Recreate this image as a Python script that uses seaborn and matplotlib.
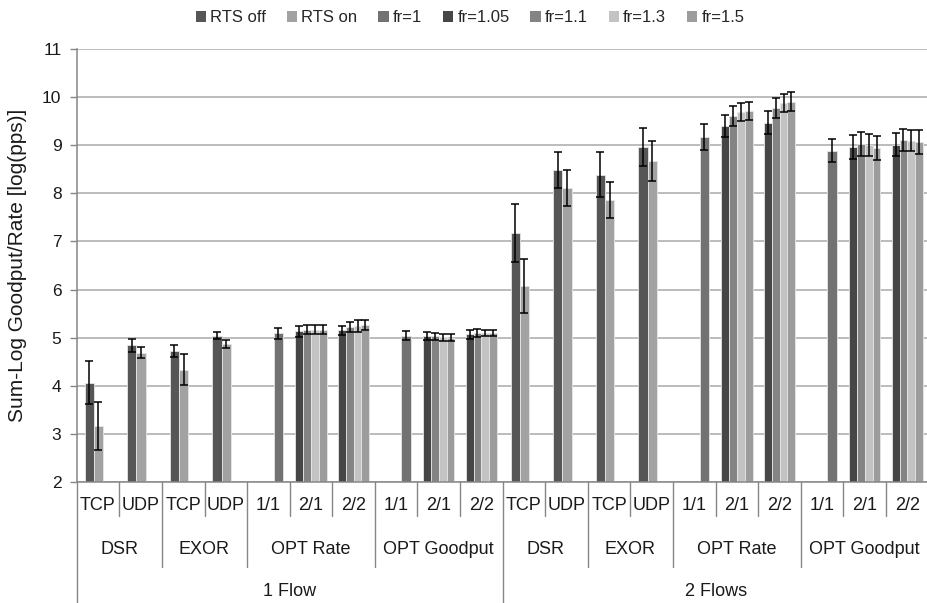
import numpy as np
import pandas as pd
import matplotlib
matplotlib.use("Agg")
import matplotlib.pyplot as plt
from matplotlib.patches import Patch
from matplotlib.transforms import blended_transform_factory
import seaborn as sns

nan = np.nan

# ---- category hierarchy ----------------------------------------------------
flows = ["1 Flow", "2 Flows"]
methods = ["DSR", "EXOR", "OPT Rate", "OPT Goodput"]
method_sizes = [2, 2, 3, 3]
sub_labels = ["TCP", "UDP", "TCP", "UDP", "1/1", "2/1", "2/2", "1/1", "2/1", "2/2"]
categories = [f"{f} | {s}" for f in flows for s in sub_labels]

series_names = ["RTS off", "RTS on", "fr=1", "fr=1.05", "fr=1.1", "fr=1.3", "fr=1.5"]

# ---- values (one entry per category, 1 Flow then 2 Flows) ------------------
rts_off = [4.07, 4.84, 4.72, 5.04, nan, nan, nan, nan, nan, nan,
           7.17, 8.48, 8.38, 8.96, nan, nan, nan, nan, nan, nan]
rts_on = [3.17, 4.69, 4.34, 4.87, nan, nan, nan, nan, nan, nan,
          6.07, 8.10, 7.86, 8.67, nan, nan, nan, nan, nan, nan]
fr_1 = [nan, nan, nan, nan, 5.09, nan, nan, 5.04, nan, nan,
        nan, nan, nan, nan, 9.16, nan, nan, 8.88, nan, nan]
fr_105 = [nan, nan, nan, nan, nan, 5.13, 5.15, nan, 5.04, 5.07,
          nan, nan, nan, nan, nan, 9.39, 9.46, nan, 8.96, 9.00]
fr_11 = [nan, nan, nan, nan, nan, 5.17, 5.22, nan, 5.03, 5.10,
         nan, nan, nan, nan, nan, 9.60, 9.77, nan, 9.01, 9.10]
fr_13 = [nan, nan, nan, nan, nan, 5.17, 5.24, nan, 5.01, 5.10,
         nan, nan, nan, nan, nan, 9.68, 9.87, nan, 9.00, 9.09]
fr_15 = [nan, nan, nan, nan, nan, 5.17, 5.27, nan, 5.00, 5.10,
         nan, nan, nan, nan, nan, 9.70, 9.90, nan, 8.94, 9.06]

# ---- error bar half-widths ------------------------------------------------
rts_off_err = [0.45, 0.14, 0.13, 0.07, nan, nan, nan, nan, nan, nan,
               0.60, 0.37, 0.47, 0.40, nan, nan, nan, nan, nan, nan]
rts_on_err = [0.49, 0.12, 0.32, 0.08, nan, nan, nan, nan, nan, nan,
              0.56, 0.37, 0.38, 0.42, nan, nan, nan, nan, nan, nan]
fr_1_err = [nan, nan, nan, nan, 0.11, nan, nan, 0.09, nan, nan,
            nan, nan, nan, nan, 0.27, nan, nan, 0.24, nan, nan]
fr_105_err = [nan, nan, nan, nan, nan, 0.11, 0.10, nan, 0.08, 0.09,
              nan, nan, nan, nan, nan, 0.23, 0.24, nan, 0.25, 0.24]
fr_11_err = [nan, nan, nan, nan, nan, 0.10, 0.10, nan, 0.07, 0.08,
             nan, nan, nan, nan, nan, 0.20, 0.21, nan, 0.25, 0.22]
fr_13_err = [nan, nan, nan, nan, nan, 0.10, 0.12, nan, 0.07, 0.07,
             nan, nan, nan, nan, nan, 0.19, 0.19, nan, 0.22, 0.22]
fr_15_err = [nan, nan, nan, nan, nan, 0.10, 0.10, nan, 0.07, 0.07,
             nan, nan, nan, nan, nan, 0.18, 0.19, nan, 0.25, 0.24]

values = [rts_off, rts_on, fr_1, fr_105, fr_11, fr_13, fr_15]
errors = [rts_off_err, rts_on_err, fr_1_err, fr_105_err, fr_11_err, fr_13_err, fr_15_err]

# ---- styling -----------------------------------------------------------------
colors = ["#565656", "#a2a2a2", "#727272", "#464646", "#848484", "#c3c3c3", "#9c9c9c"]
# bar placement inside a category slot (in category units)
offsets = [-0.205, 0.01, 0.23, -0.275, -0.092, 0.092, 0.275]
bar_widths = [0.216, 0.216, 0.216, 0.183, 0.183, 0.183, 0.183]

sns.set_theme(style="white")
plt.rcParams["font.family"] = ["Liberation Sans", "DejaVu Sans"]
label_font = ["Liberation Sans", "DejaVu Sans"]
text_color = "#1a1a1a"

W, H = 927, 603
fig = plt.figure(figsize=(W / 100, H / 100), dpi=100)
left_px, right_px, top_px, bottom_px = 76.7, 928.7, 48.5, 482.3
ax = fig.add_axes([left_px / W, 1 - bottom_px / H,
                   (right_px - left_px) / W, (bottom_px - top_px) / H])

rows = []
for name, vals, errs in zip(series_names, values, errors):
    for i, (v, e) in enumerate(zip(vals, errs)):
        if not np.isnan(v):
            rows.append({"series": name, "idx": i, "value": v, "err": e})
df = pd.DataFrame(rows)

ax.set_axisbelow(True)
ax.yaxis.grid(True, color="#a9a9a9", linewidth=1.1)
ax.xaxis.grid(False)

for k, name in enumerate(series_names):
    sub = df[df["series"] == name]
    x = sub["idx"].to_numpy(dtype=float) + offsets[k]
    spacing = np.diff(np.unique(x)).min() if len(x) > 1 else 1.0
    sns.barplot(x=x, y=sub["value"].to_numpy(), native_scale=True,
                width=bar_widths[k] / spacing, color=colors[k], saturation=1,
                errorbar=None, linewidth=0.6, edgecolor="#e6e6e6", ax=ax)
    ax.errorbar(x, sub["value"], yerr=sub["err"], fmt="none", ecolor="black",
                elinewidth=1.1, capsize=2.7, capthick=1.1, zorder=5)

ax.set_xlim(-0.5, len(categories) - 0.5)
ax.set_ylim(2, 11)
ax.set_yticks(range(2, 12))
ax.set_xticks([])
ax.set_xlabel("")
ax.tick_params(axis="y", which="major", length=5, width=1, color="#868686",
               direction="out", pad=6, labelsize=12.5, labelcolor=text_color, left=True)
for side in ["top", "right"]:
    ax.spines[side].set_visible(False)
for side in ["left", "bottom"]:
    ax.spines[side].set_color("#868686")
    ax.spines[side].set_linewidth(1.1)

ax.set_ylabel("Sum-Log Goodput/Rate [log(pps)]", fontsize=15, color=text_color,
              labelpad=11)

# ---- multi-level category axis -------------------------------------------
tr = blended_transform_factory(ax.transData, ax.transAxes)
ax_h = bottom_px - top_px
def ay(px):
    return -(px - bottom_px) / ax_h

y_row1, y_row2, y_row3 = ay(506), ay(549), ay(591)
y_sep1, y_sep2, y_sep3 = ay(516), ay(567), ay(H + 5)
sep_kw = dict(color="#868686", linewidth=1.0, transform=tr, clip_on=False)
lab_kw = dict(transform=tr, ha="center", va="center", fontsize=13,
              family=label_font, color=text_color)

n_sub = len(sub_labels)
for fi, flow in enumerate(flows):
    base = fi * n_sub
    for j, lab in enumerate(sub_labels):
        ax.text(base + j, y_row1, lab, **lab_kw)
    start = base
    for m, size in zip(methods, method_sizes):
        ax.text(start + (size - 1) / 2, y_row2, m, **lab_kw)
        for b in range(start + 1, start + size):
            ax.plot([b - 0.5, b - 0.5], [0, y_sep1], **sep_kw)
        if start > base:
            ax.plot([start - 0.5, start - 0.5], [0, y_sep2], **sep_kw)
        start += size
    ax.text(base + (n_sub - 1) / 2, y_row3, flow, **lab_kw)
    ax.plot([base - 0.5, base - 0.5], [0, y_sep3], **sep_kw)
ax.plot([len(categories) - 0.5] * 2, [0, y_sep3], **sep_kw)

# ---- legend ----------------------------------------------------------------
handles = [Patch(facecolor=c, edgecolor="none") for c in colors]
fig.legend(handles, series_names, loc="center", bbox_to_anchor=(470 / W, 1 - 18 / H),
           ncol=len(series_names), frameon=False, fontsize=12,
           handlelength=0.62, handleheight=0.62, handletextpad=0.25,
           columnspacing=1.25, borderaxespad=0, borderpad=0)

fig.savefig("out.png", dpi=100)
